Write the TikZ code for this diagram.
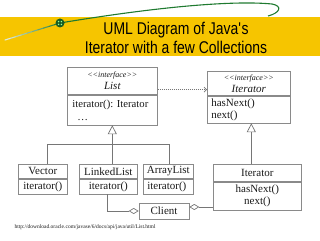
\documentclass[tikz,border=0pt]{standalone}
\usepackage{fontspec}
\setmainfont{Liberation Serif}
\newfontfamily\bannerfont[FakeStretch=0.82]{Liberation Sans}
\usetikzlibrary{arrows.meta,calc}
\definecolor{banner}{HTML}{F6C500}
\definecolor{leaf}{HTML}{1F7A30}
\definecolor{wire}{HTML}{767676}
\definecolor{frame}{HTML}{8A8A8A}
\definecolor{ink}{HTML}{1A1A1A}
\newcommand{\ifacetag}{{\fontsize{8}{9}\selectfont\itshape <{}<interface>{}>}}
\tikzset{cls/.style={draw=frame,line width=.6pt,fill=white,inner xsep=3pt,inner ysep=1.5pt,align=center,text=ink,font=\fontsize{11}{12}\selectfont},ttl/.style={cls,anchor=north west},bdy/.style={cls,anchor=north},lbdy/.style={bdy,align=left},link/.style={draw=wire,line width=.7pt},gen/.style={link,-{Triangle[open,length=9pt,width=9pt]}},agg/.style={link,-{Diamond[open,length=10pt,width=6pt]}},dep/.style={link,dash pattern=on 1pt off 1pt,-{Straight Barb[length=2.5pt,width=5pt]}}}

\begin{document}
\begin{tikzpicture}[x=1pt,y=-1pt]
\useasboundingbox (0,0) rectangle (320,240);
\fill[banner] (0,17) rectangle (320,56);
\foreach \i [evaluate=\i as \c using int(15+\i*9)] in {0,...,9}{\draw[leaf!\c!white,line width=1.1pt,line cap=round] ($(5,40)!\i/10!(60,23)$) -- ($(5,40)!\i/10+0.1!(60,23)$);}
\draw[leaf,line width=1.1pt] (60,23) .. controls (150,8) and (230,0) .. (272,4) .. controls (283,6) and (280,13) .. (268,16);
\fill[leaf!75!black] (60,23) circle (4.5);
\foreach \a in {45,135,225,315}{\fill[green!40!white] (60,23) ++(\a:2) circle (0.8);}
\node[font=\bannerfont\fontsize{17}{19}\selectfont,text=black,align=center] (title) at (176,37.5) {UML Diagram of Java\textquotesingle s\\Iterator with a few Collections};
% interfaces
\node[ttl,minimum width=90,minimum height=27] (ListT) at (67,67) {\ifacetag\\{\itshape List}};
\node[lbdy,minimum width=90,minimum height=30,inner xsep=5pt,text width=80pt,font=\fontsize{10.7}{13}\selectfont] (ListB) at (ListT.south) {iterator():~Iterator\\\hspace*{5pt}\ldots};
\node[ttl,minimum width=83,minimum height=24] (ItfT) at (207,71) {\ifacetag\\{\itshape Iterator}};
\node[lbdy,minimum width=83,minimum height=27,inner xsep=4pt,text width=75pt] (ItfB) at (ItfT.south) {hasNext()\\next()};
% classes
\node[ttl,minimum width=49,minimum height=14] (VecT) at (18,164) {Vector};
\node[bdy,minimum width=49,minimum height=15] (VecB) at (VecT.south) {iterator()};
\node[ttl,minimum width=58,minimum height=14] (LinkT) at (79,164) {LinkedList};
\node[bdy,minimum width=58,minimum height=15] (LinkB) at (LinkT.south) {iterator()};
\node[ttl,minimum width=50,minimum height=14] (ArrT) at (143,164) {ArrayList};
\node[lbdy,minimum width=50,minimum height=15,inner xsep=4pt,text width=42pt] (ArrB) at (ArrT.south) {iterator()};
\node[ttl,minimum width=88,minimum height=17] (ItcT) at (213,164) {Iterator};
\node[bdy,minimum width=88,minimum height=28] (ItcB) at (ItcT.south) {hasNext()\\next()};
\node[cls,minimum width=50,minimum height=16] (Client) at (164,211) {Client};
% connectors
\coordinate (fork) at ([yshift=-19pt]ListB.south);
\draw[gen] (fork) -- (fork |- ListB.south);
\draw[link] (fork) -| ([xshift=4.5pt]VecT.north);
\draw[link] (fork) -- (fork |- LinkT.north);
\draw[link] (fork) -| ([xshift=1pt]ArrT.north);
\draw[dep] ([yshift=5pt]ListT.south east) -- ([yshift=5pt]ListT.south east -| ItfT.west);
\draw[gen] ([xshift=-6pt]ItcT.north) -- ([xshift=-6pt]ItcT.north |- ItfB.south);
\draw[agg] ([xshift=-1pt]LinkB.south) |- (Client.west);
\draw[agg] ([yshift=4pt]Client.east -| ItcB.west) -- ([yshift=4pt]Client.east);
\node[anchor=west,font=\fontsize{5.5}{6}\selectfont,text=ink] (src) at (11,227) {http://download.oracle.com/javase/6/docs/api/java/util/List.html};
\end{tikzpicture}
\end{document}
